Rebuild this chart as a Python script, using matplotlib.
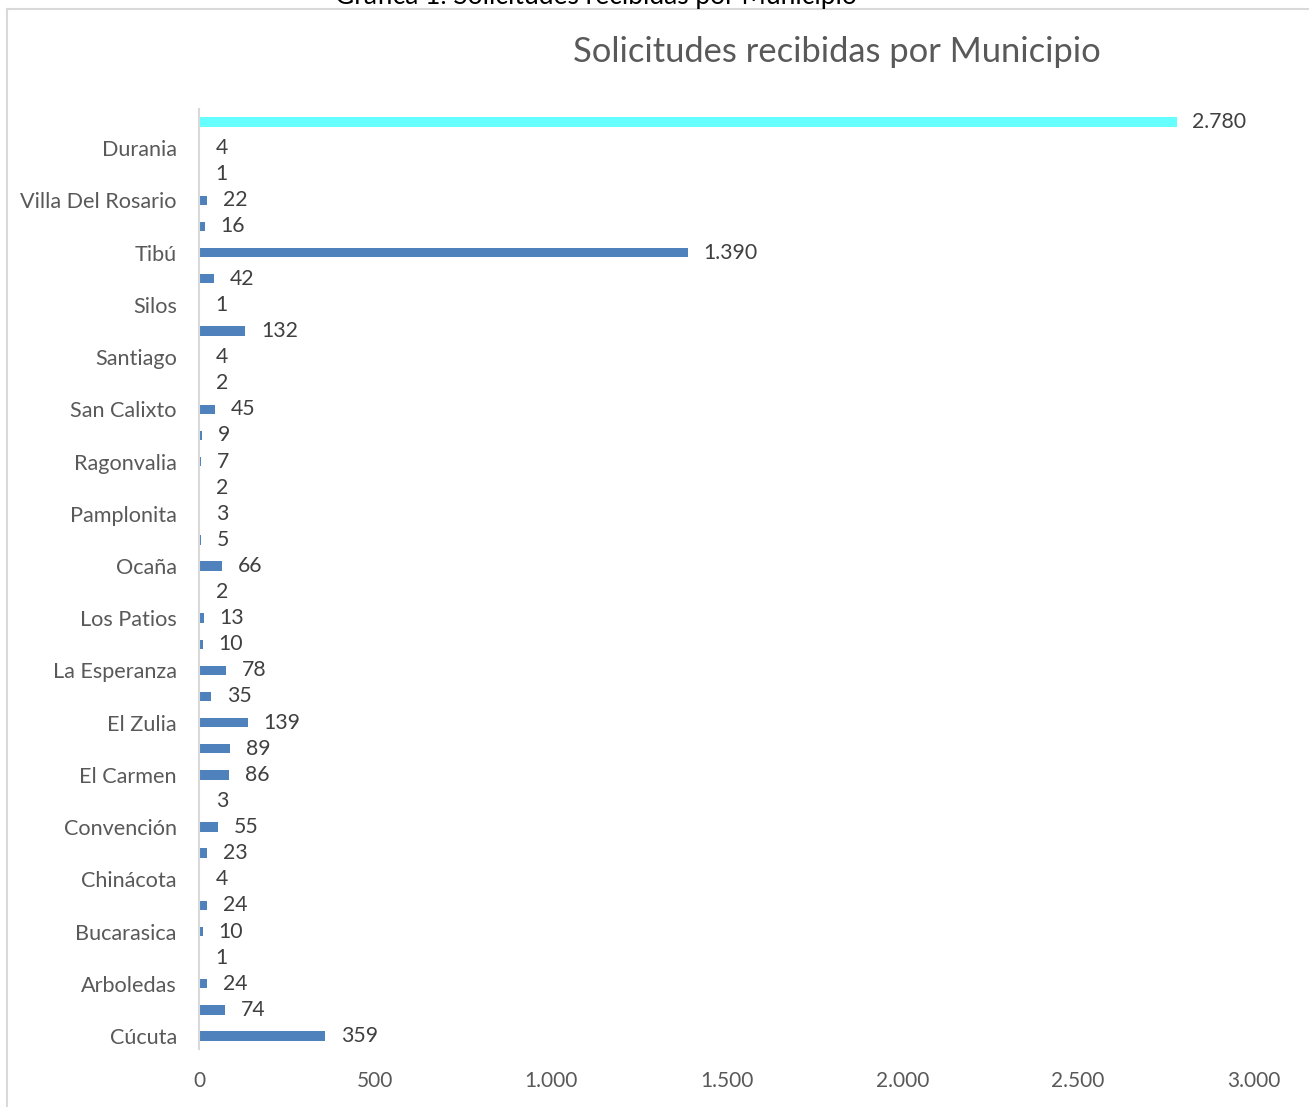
"""
Solicitudes recibidas por Municipio - horizontal bar chart.
"""
import matplotlib.pyplot as plt
from matplotlib.lines import Line2D

# bottom to top, as drawn
municipios = [
    "Cúcuta", "Abrego", "Arboledas", "Bochalema", "Bucarasica", "Cáchira",
    "Chinácota", "Chitagá", "Convención", "Cucutilla", "El Carmen", "El Tarra",
    "El Zulia", "Gramalote", "La Esperanza", "La Playa", "Los Patios", "Lourdes",
    "Ocaña", "Pamplona", "Pamplonita", "Puerto Santander", "Ragonvalia", "Salazar",
    "San Calixto", "San Cayetano", "Santiago", "Sardinata", "Silos", "Teorama",
    "Tibú", "Toledo", "Villa Del Rosario", "Villa Caro", "Durania", "Total",
]
solicitudes = [
    359, 74, 24, 1, 10, 24, 4, 23, 55, 3, 86, 89, 139, 35, 78, 10, 13, 2,
    66, 5, 3, 2, 7, 9, 45, 2, 4, 132, 1, 42, 1390, 16, 22, 1, 4, 2780,
]
xticks = [0, 500, 1000, 1500, 2000, 2500, 3000]

plt.rcParams["font.family"] = ["Lato", "DejaVu Sans"]

BLUE = "#4F81BD"
CYAN = "#66FFFF"

fig = plt.figure(figsize=(13.09, 11.07), dpi=100)
ax = fig.add_axes([199 / 1309, 1 - 1049 / 1107, (1254 - 199) / 1309, (1049 - 109) / 1107])

pos = list(range(len(municipios)))
colors = [BLUE] * (len(municipios) - 1) + [CYAN]
ax.barh(pos, solicitudes, height=0.36, color=colors)

def fmt(v):
    return f"{v:,}".replace(",", ".")

for p, v in zip(pos, solicitudes):
    ax.text(v + 45, p, fmt(v), va="center", ha="left", fontsize=15.3, color="#404040")

ax.set_xlim(0, 3000)
ax.set_ylim(-0.5, len(municipios) - 0.5)
ax.set_xticks(xticks)
ax.set_xticklabels([fmt(t) for t in xticks], fontsize=15, color="#595959")
ax.set_yticks(pos[0:-1:2])
ax.set_yticklabels(municipios[0:-1:2], fontsize=15.6, color="#595959")
ax.tick_params(axis="both", length=0)
ax.tick_params(axis="x", pad=16)
ax.tick_params(axis="y", pad=16)
for s in ["top", "right", "bottom"]:
    ax.spines[s].set_visible(False)
ax.spines["left"].set_color("#D9D9D9")
ax.spines["left"].set_linewidth(1.5)

fig.text(837 / 1309, 1 - 52 / 1107, "Solicitudes recibidas por Municipio",
         ha="center", va="center", fontsize=24.8, color="#595959")

# caption cut at top of the picture
fig.text(596 / 1309, 1 - 4 / 1107, "Gráfica 1. Solicitudes recibidas por Municipio",
         ha="center", va="baseline", fontsize=19, color="#000000")

# chart frame
fig.add_artist(Line2D([7 / 1309, 1], [1 - 9 / 1107, 1 - 9 / 1107],
                      transform=fig.transFigure, color="#D9D9D9", lw=1.5))
fig.add_artist(Line2D([7 / 1309, 7 / 1309], [0, 1 - 9 / 1107],
                      transform=fig.transFigure, color="#D9D9D9", lw=1.5))

fig.savefig("out.png", dpi=100)
